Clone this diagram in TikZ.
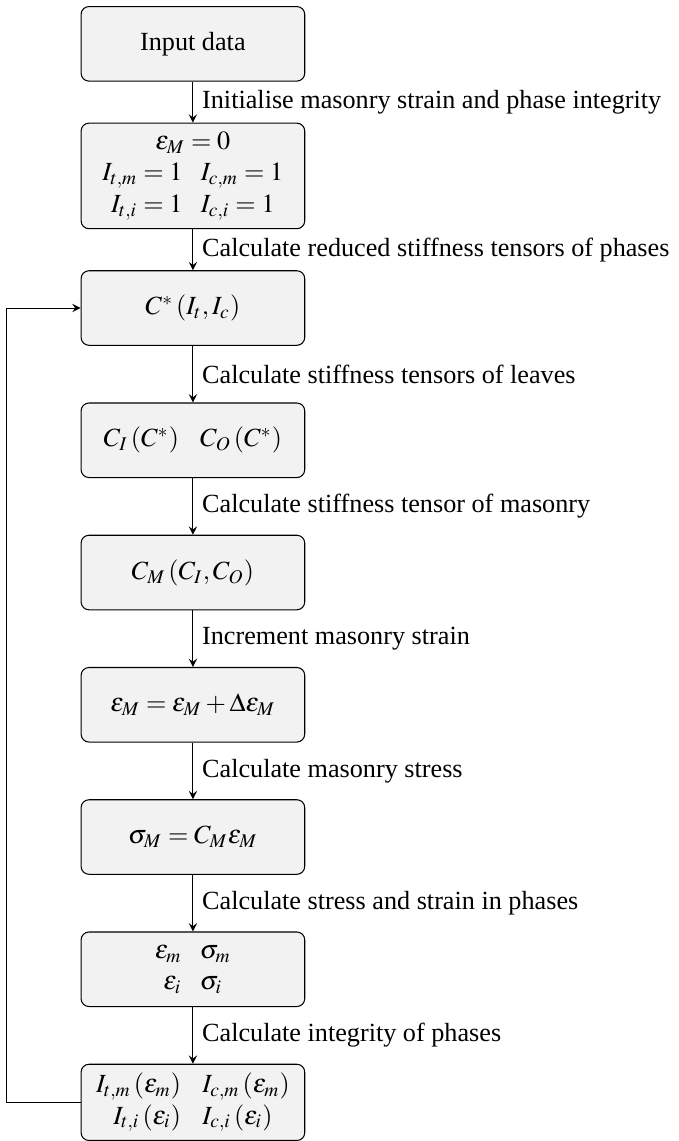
\documentclass[tikz,border=0pt]{standalone}
\usepackage{amsmath,amssymb}
\usepackage{mathptmx}
\usepackage{fontspec}
\setmainfont{Liberation Serif}
\usetikzlibrary{positioning,calc}
\newcommand{\colgap}{\hspace{7pt}}

\begin{document}
\begin{tikzpicture}[>=stealth, line join=round,
	stage/.style={draw, fill=gray!10, rounded corners=3pt, minimum width=3cm, minimum height=1cm, align=center},
	near/.style={below=0.55cm of #1},
	far/.style={below=0.76cm of #1}]
	% Các bước
	\node[stage] (input) {Input data};
	\node[stage, near=input] (init) {$\varepsilon_M = 0$\\
		$I_{t,m} = 1\colgap I_{c,m} = 1$\\
		$I_{t,i} = 1\colgap I_{c,i} = 1$};
	\node[stage, near=init] (reduced) {$C^*\left(I_t, I_c\right)$};
	\node[stage, far=reduced] (leaves) {$C_I\left(C^*\right)\colgap C_O\left(C^*\right)$};
	\node[stage, far=leaves] (masonry) {$C_M\left(C_I, C_O\right)$};
	\node[stage, far=masonry] (incr) {$\varepsilon_M = \varepsilon_M + \Delta\varepsilon_M$};
	\node[stage, far=incr] (stress) {$\sigma_M = C_M \varepsilon_M$};
	\node[stage, far=stress] (phases) {$\varepsilon_m\colgap \sigma_m$\\
		$\varepsilon_i\colgap \sigma_i$};
	\node[stage, far=phases] (integ) {$I_{t,m}\left(\varepsilon_m\right)\colgap I_{c,m}\left(\varepsilon_m\right)$\\
		$I_{t,i}\left(\varepsilon_i\right)\colgap I_{c,i}\left(\varepsilon_i\right)$};
	% Mũi tên
	\draw[->] (input) -- node[right] {Initialise masonry strain and phase integrity} (init);
	\draw[->] (init) -- node[right] {Calculate reduced stiffness tensors of phases} (reduced);
	\draw[->] (reduced) -- node[right] {Calculate stiffness tensors of leaves} (leaves);
	\draw[->] (leaves) -- node[right] {Calculate stiffness tensor of masonry} (masonry);
	\draw[->] (masonry) -- node[right] {Increment masonry strain} (incr);
	\draw[->] (incr) -- node[right] {Calculate masonry stress} (stress);
	\draw[->] (stress) -- node[right] {Calculate stress and strain in phases} (phases);
	\draw[->] (phases) -- node[right] {Calculate integrity of phases} (integ);
	% Vòng lặp
	\coordinate[left=1cm of integ.west] (loop);
	\draw[->] (integ.west) -- (loop) |- (reduced.west);
	\useasboundingbox ($(loop |- input.north)+(-2.3pt,2.3pt)$) rectangle ($(integ.south)+(183.7pt,0)$);
\end{tikzpicture}
\end{document}
